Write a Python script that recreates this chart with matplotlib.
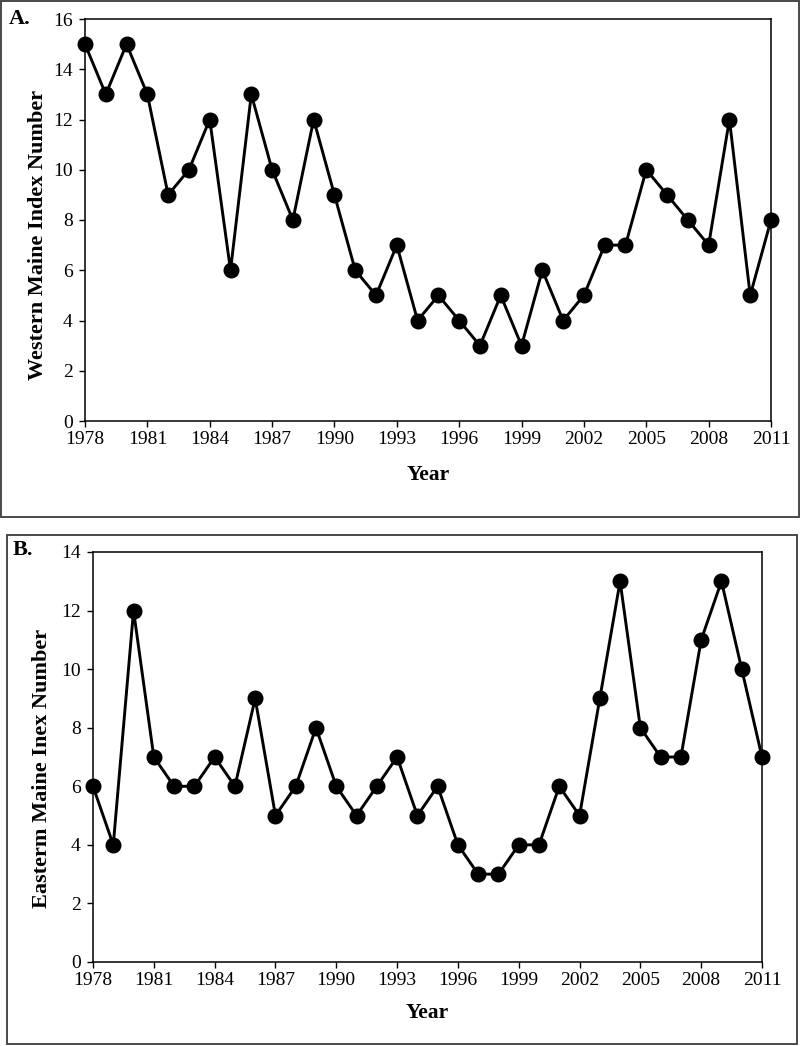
import matplotlib
matplotlib.use("Agg")
import matplotlib.pyplot as plt
from matplotlib.patches import Rectangle

years = list(range(1978, 2012))
western = [15, 13, 15, 13, 9, 10, 12, 6, 13, 10, 8, 12, 9, 6, 5, 7, 4, 5, 4, 3,
           5, 3, 6, 4, 5, 7, 7, 10, 9, 8, 7, 12, 5, 8]
eastern = [6, 4, 12, 7, 6, 6, 7, 6, 9, 5, 6, 8, 6, 5, 6, 7, 5, 6, 4, 3,
           3, 4, 4, 6, 5, 9, 13, 8, 7, 7, 11, 13, 10, 7]
xticks = list(range(1978, 2012, 3))

plt.rcParams['font.family'] = ['Liberation Serif', 'DejaVu Serif']

W, H = 800, 1046
fig = plt.figure(figsize=(W / 100, H / 100), dpi=100)

def fx(px):
    return px / W

def fy(py):
    return 1 - py / H

# panel boxes
for (x0, y0, x1, y1) in [(1, 1, 799, 517), (7, 535, 797, 1044)]:
    fig.patches.append(Rectangle((fx(x0), fy(y1)), fx(x1 - x0), (y1 - y0) / H,
                                 transform=fig.transFigure, fill=False,
                                 edgecolor='#3a3a3a', linewidth=1.3))

def panel(rect, data, ymax, ylabel, tag, tagpos, ylab_px, xlab_py):
    l, t, r, b = rect
    ax = fig.add_axes([fx(l), fy(b), fx(r - l), (b - t) / H])
    ax.plot(years, data, color='black', linewidth=2.1, marker='o',
            markersize=10.5, markerfacecolor='black', markeredgecolor='black',
            clip_on=False, zorder=3)
    ax.set_xlim(1978, 2011)
    ax.set_ylim(0, ymax)
    ax.set_xticks(xticks)
    ax.set_xticklabels([str(v) for v in xticks])
    ax.set_yticks(range(0, ymax + 1, 2))
    ax.tick_params(axis='both', labelsize=14, length=4, width=1, direction='out',
                   color='black')
    ax.tick_params(axis='x', pad=3)
    ax.tick_params(axis='y', pad=5)
    for s in ax.spines.values():
        s.set_linewidth(1.1)
        s.set_color('black')
    ax.set_xlabel('Year', fontsize=15.5, fontweight='bold')
    ax.set_ylabel(ylabel, fontsize=16, fontweight='bold')
    ax.xaxis.label.set_va('center')
    ax.yaxis.label.set_va('center')
    ax.yaxis.set_label_coords((ylab_px[0] - l) / (r - l), (b - ylab_px[1]) / (b - t))
    ax.xaxis.set_label_coords(0.5, (b - xlab_py) / (b - t))
    fig.text(fx(tagpos[0]), fy(tagpos[1]), tag, fontsize=16, fontweight='bold',
             ha='left', va='center')
    return ax

panel((85, 19, 771, 421), western, 16, 'Western Maine Index Number', 'A.',
      (9, 19), (38, 235), 475)
panel((93, 552, 762, 962), eastern, 14, 'Easterm Maine Inex Number', 'B.',
      (13, 550), (42, 768), 1013)

fig.savefig('out.png', dpi=100)
